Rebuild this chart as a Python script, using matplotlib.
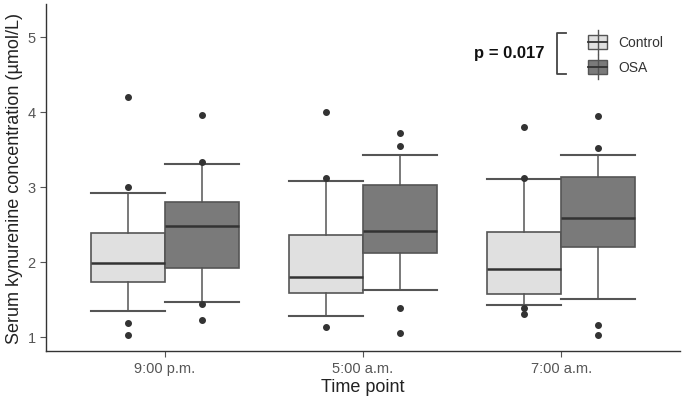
import matplotlib
matplotlib.use("Agg")
import matplotlib.pyplot as plt
from matplotlib.patches import Rectangle
from matplotlib.lines import Line2D

plt.rcParams['font.family'] = ['Liberation Sans', 'DejaVu Sans']

time_points = ["9:00 p.m.", "5:00 a.m.", "7:00 a.m."]
groups = ["Control", "OSA"]

# per time point: [whislo, q1, med, q3, whishi]
control_stats = [
    [1.34, 1.73, 1.99, 2.39, 2.92],
    [1.28, 1.58, 1.80, 2.36, 3.08],
    [1.42, 1.57, 1.91, 2.40, 3.11],
]
osa_stats = [
    [1.46, 1.92, 2.48, 2.80, 3.30],
    [1.63, 2.12, 2.41, 3.03, 3.42],
    [1.51, 2.20, 2.59, 3.13, 3.42],
]
control_points = [
    [4.20, 3.00, 1.18, 1.02],
    [4.00, 3.12, 1.13],
    [3.80, 3.12, 1.39, 1.30],
]
osa_points = [
    [3.96, 3.33, 1.44, 1.23],
    [3.72, 3.54, 1.38, 1.05],
    [3.94, 3.52, 1.16, 1.02],
]
p_text = "p = 0.017"

fill_colors = {"Control": "#e0e0e0", "OSA": "#7a7a7a"}
edge = "#555555"

fig = plt.figure(figsize=(6.85, 4.06), dpi=100)
ax = fig.add_axes([0.0672, 0.133, 0.9255, 0.855])

width = 0.375
for gi, (name, stats, pts) in enumerate([("Control", control_stats, control_points),
                                          ("OSA", osa_stats, osa_points)]):
    bxps = []
    positions = []
    for i, s in enumerate(stats):
        bxps.append(dict(whislo=s[0], q1=s[1], med=s[2], q3=s[3], whishi=s[4],
                         fliers=pts[i], label=""))
        positions.append(i + 1 + (gi - 0.5) * width)
    ax.bxp(bxps, positions=positions, widths=width, patch_artist=True,
           showfliers=True, capwidths=width,
           boxprops=dict(facecolor=fill_colors[name], edgecolor=edge, linewidth=1.2),
           medianprops=dict(color="#333333", linewidth=1.8),
           whiskerprops=dict(color=edge, linewidth=1.1),
           capprops=dict(color=edge, linewidth=1.5),
           flierprops=dict(marker="o", markerfacecolor="#333333", markeredgecolor="#333333",
                           markersize=4, linestyle="none"))

ax.set_xlim(0.4, 3.6)
ax.set_ylim(0.81, 5.44)
ax.set_xticks([1, 2, 3])
ax.set_xticklabels(time_points)
ax.set_yticks([1, 2, 3, 4, 5])
ax.tick_params(axis="both", colors="#555555", labelcolor="#555555", labelsize=10.5,
               length=4, width=0.8)
for s in ["top", "right"]:
    ax.spines[s].set_visible(False)
for s in ["left", "bottom"]:
    ax.spines[s].set_color("#333333")
    ax.spines[s].set_linewidth(1.0)
ax.set_xlabel("Time point", fontsize=13, color="#222222", labelpad=2)
ax.set_ylabel("Serum kynurenine concentration (µmol/L)", fontsize=13, color="#222222", labelpad=3)

# legend drawn in figure pixel coordinates
def fx(px):
    return px / 685.0

def fy(py):
    return 1 - py / 406.0

tr = fig.transFigure
# bracket
fig.add_artist(Line2D([fx(566), fx(557), fx(557), fx(566)], [fy(34), fy(34), fy(75), fy(75)],
                      transform=tr, color="#444444", linewidth=1.3))
for name, yc in [("Control", 43), ("OSA", 68)]:
    fig.add_artist(Line2D([fx(598), fx(598)], [fy(yc - 12), fy(yc + 12)], transform=tr,
                          color="#555555", linewidth=1.0))
    fig.add_artist(Rectangle((fx(588), fy(yc + 7)), fx(607) - fx(588), fy(yc - 7) - fy(yc + 7),
                             transform=tr, facecolor=fill_colors[name], edgecolor=edge,
                             linewidth=1.0))
    fig.add_artist(Line2D([fx(588), fx(607)], [fy(yc), fy(yc)], transform=tr,
                          color="#333333", linewidth=1.3))
    fig.text(fx(618), fy(yc), name, transform=tr, ha="left", va="center",
             fontsize=10, color="#333333")
fig.text(fx(545), fy(54), p_text, transform=tr, ha="right", va="center",
         fontsize=12, fontweight="bold", color="#111111")

fig.savefig("out.png", dpi=100)
